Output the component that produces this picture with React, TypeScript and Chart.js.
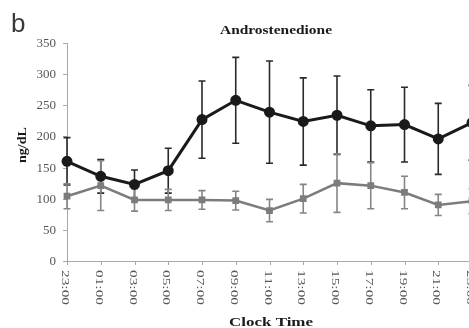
import React, { useEffect, useRef } from 'react';
import { Chart, registerables } from 'chart.js';
Chart.register(...registerables);

const categories = ['23:00', '01:00', '03:00', '05:00', '07:00', '09:00', '11:00', '13:00', '15:00', '17:00', '19:00', '21:00', '23:00'];
const seriesA = [160, 136, 123, 145, 227, 258, 239, 224, 234, 217, 219, 196, 222];
const errA = [38, 27, 23, 36, 62, 69, 82, 70, 63, 58, 60, 57, 60];
const seriesB = [104, 121, 98, 98, 98, 97, 81, 100, 125, 121, 110, 90, 96];
const errB = [20, 40, 18, 17, 15, 15, 18, 23, 47, 37, 26, 17, 20];
const yTicks = [0, 50, 100, 150, 200, 250, 300, 350];
const errors = [errA, errB];
const errColors = ['#2a2a2a', '#858585'];

const W = 469;
const H = 328;
const CW = 490;

function fitText(ctx: CanvasRenderingContext2D, text: string, x: number, y: number, targetW: number) {
  const w = ctx.measureText(text).width;
  const sx = targetW / w;
  ctx.save();
  ctx.translate(x, y);
  ctx.scale(sx, 1);
  ctx.fillText(text, 0, 0);
  ctx.restore();
}

const bgPlugin = {
  id: 'bg',
  beforeDraw(chart: any) {
    const ctx = chart.ctx;
    ctx.save();
    ctx.fillStyle = '#fff';
    ctx.fillRect(0, 0, chart.width, chart.height);
    ctx.restore();
  },
};

const axesPlugin = {
  id: 'customAxes',
  beforeDatasetsDraw(chart: any) {
    const ctx = chart.ctx as CanvasRenderingContext2D;
    const xs = chart.scales.x;
    const ys = chart.scales.y;
    const area = chart.chartArea;
    ctx.save();
    ctx.strokeStyle = '#a8a8a8';
    ctx.lineWidth = 1;
    ctx.beginPath();
    ctx.moveTo(area.left + 0.5, ys.getPixelForValue(350));
    ctx.lineTo(area.left + 0.5, ys.getPixelForValue(0));
    ctx.stroke();
    ctx.beginPath();
    ctx.moveTo(area.left, ys.getPixelForValue(0) + 0.5);
    ctx.lineTo(area.right + 20, ys.getPixelForValue(0) + 0.5);
    ctx.stroke();
    ctx.fillStyle = '#555';
    ctx.font = "13px 'Liberation Serif'";
    ctx.textAlign = 'right';
    ctx.textBaseline = 'middle';
    yTicks.forEach((v) => {
      const py = Math.round(ys.getPixelForValue(v)) + 0.5;
      ctx.beginPath();
      ctx.moveTo(area.left - 4, py);
      ctx.lineTo(area.left, py);
      ctx.stroke();
      ctx.fillText(String(v), area.left - 11, py);
    });
    const y0 = ys.getPixelForValue(0);
    categories.forEach((c, i) => {
      const px = Math.round(xs.getPixelForValue(i)) + 0.5;
      ctx.beginPath();
      ctx.moveTo(px, y0);
      ctx.lineTo(px, y0 + 4);
      ctx.stroke();
      ctx.save();
      ctx.translate(px - 3, y0 + 9);
      ctx.rotate(Math.PI / 2);
      ctx.textAlign = 'left';
      ctx.textBaseline = 'middle';
      ctx.font = "12px 'Liberation Serif'";
      const w = ctx.measureText(c).width;
      ctx.scale(35 / w, 0.95);
      ctx.fillText(c, 0, 0);
      ctx.restore();
    });
    ctx.fillStyle = '#1a1a1a';
    ctx.textAlign = 'left';
    ctx.textBaseline = 'alphabetic';
    ctx.font = "bold 12px 'Liberation Serif'";
    fitText(ctx, 'Androstenedione', 220, 34, 112);
    fitText(ctx, 'Clock Time', 229, 326, 84);
    ctx.save();
    ctx.translate(26, 163);
    ctx.rotate(-Math.PI / 2);
    ctx.font = "bold 12px 'Liberation Serif'";
    const lw = ctx.measureText('ng/dL').width;
    ctx.scale(36 / lw, 1);
    ctx.fillText('ng/dL', 0, 0);
    ctx.restore();
    ctx.fillStyle = '#3a3a3a';
    ctx.font = "26px 'Liberation Sans'";
    ctx.fillText('b', 11, 32);
    chart.data.datasets.forEach((ds: any, di: number) => {
      const meta = chart.getDatasetMeta(di);
      ctx.strokeStyle = errColors[di];
      ctx.lineWidth = 1.6;
      meta.data.forEach((pt: any, i: number) => {
        const v = ds.data[i];
        const e = errors[di][i];
        const top = ys.getPixelForValue(v + e);
        const bot = ys.getPixelForValue(v - e);
        ctx.beginPath();
        ctx.moveTo(pt.x, top);
        ctx.lineTo(pt.x, bot);
        ctx.moveTo(pt.x - 3.5, top);
        ctx.lineTo(pt.x + 3.5, top);
        ctx.moveTo(pt.x - 3.5, bot);
        ctx.lineTo(pt.x + 3.5, bot);
        ctx.stroke();
      });
    });
    ctx.restore();
  },
};

export default function App() {
  const ref = useRef<HTMLCanvasElement>(null);
  useEffect(() => {
    if (!ref.current) return;
    const chart = new Chart(ref.current, {
      type: 'line',
      data: {
        labels: categories,
        datasets: [
          {
            label: 'A',
            data: seriesA,
            borderColor: '#1a1a1a',
            backgroundColor: '#1a1a1a',
            borderWidth: 3,
            pointRadius: 4,
            pointStyle: 'circle',
            pointBackgroundColor: '#1a1a1a',
            pointBorderColor: '#1a1a1a',
            tension: 0,
            clip: false as any,
          },
          {
            label: 'B',
            data: seriesB,
            borderColor: '#7c7c7c',
            backgroundColor: '#7c7c7c',
            borderWidth: 2.5,
            pointRadius: 3,
            pointStyle: 'rect',
            pointBackgroundColor: '#7c7c7c',
            pointBorderColor: '#7c7c7c',
            tension: 0,
            clip: false as any,
          },
        ],
      },
      options: {
        animation: false,
        responsive: false,
        devicePixelRatio: 1,
        layout: { padding: { left: 67, top: 43, right: CW - 472, bottom: 67 } },
        scales: {
          x: { type: 'category', display: false, offset: false },
          y: { type: 'linear', display: false, min: 0, max: 350 },
        },
        plugins: {
          legend: { display: false },
          tooltip: { enabled: false },
          title: { display: false },
        },
      },
      plugins: [bgPlugin, axesPlugin],
    });
    return () => chart.destroy();
  }, []);
  return (
    <div style={{ position: 'fixed', left: 0, top: 0, width: W, height: H, overflow: 'hidden', background: '#fff' }}>
      <canvas ref={ref} width={CW} height={H} style={{ width: CW, height: H, display: 'block' }} />
    </div>
  );
}
